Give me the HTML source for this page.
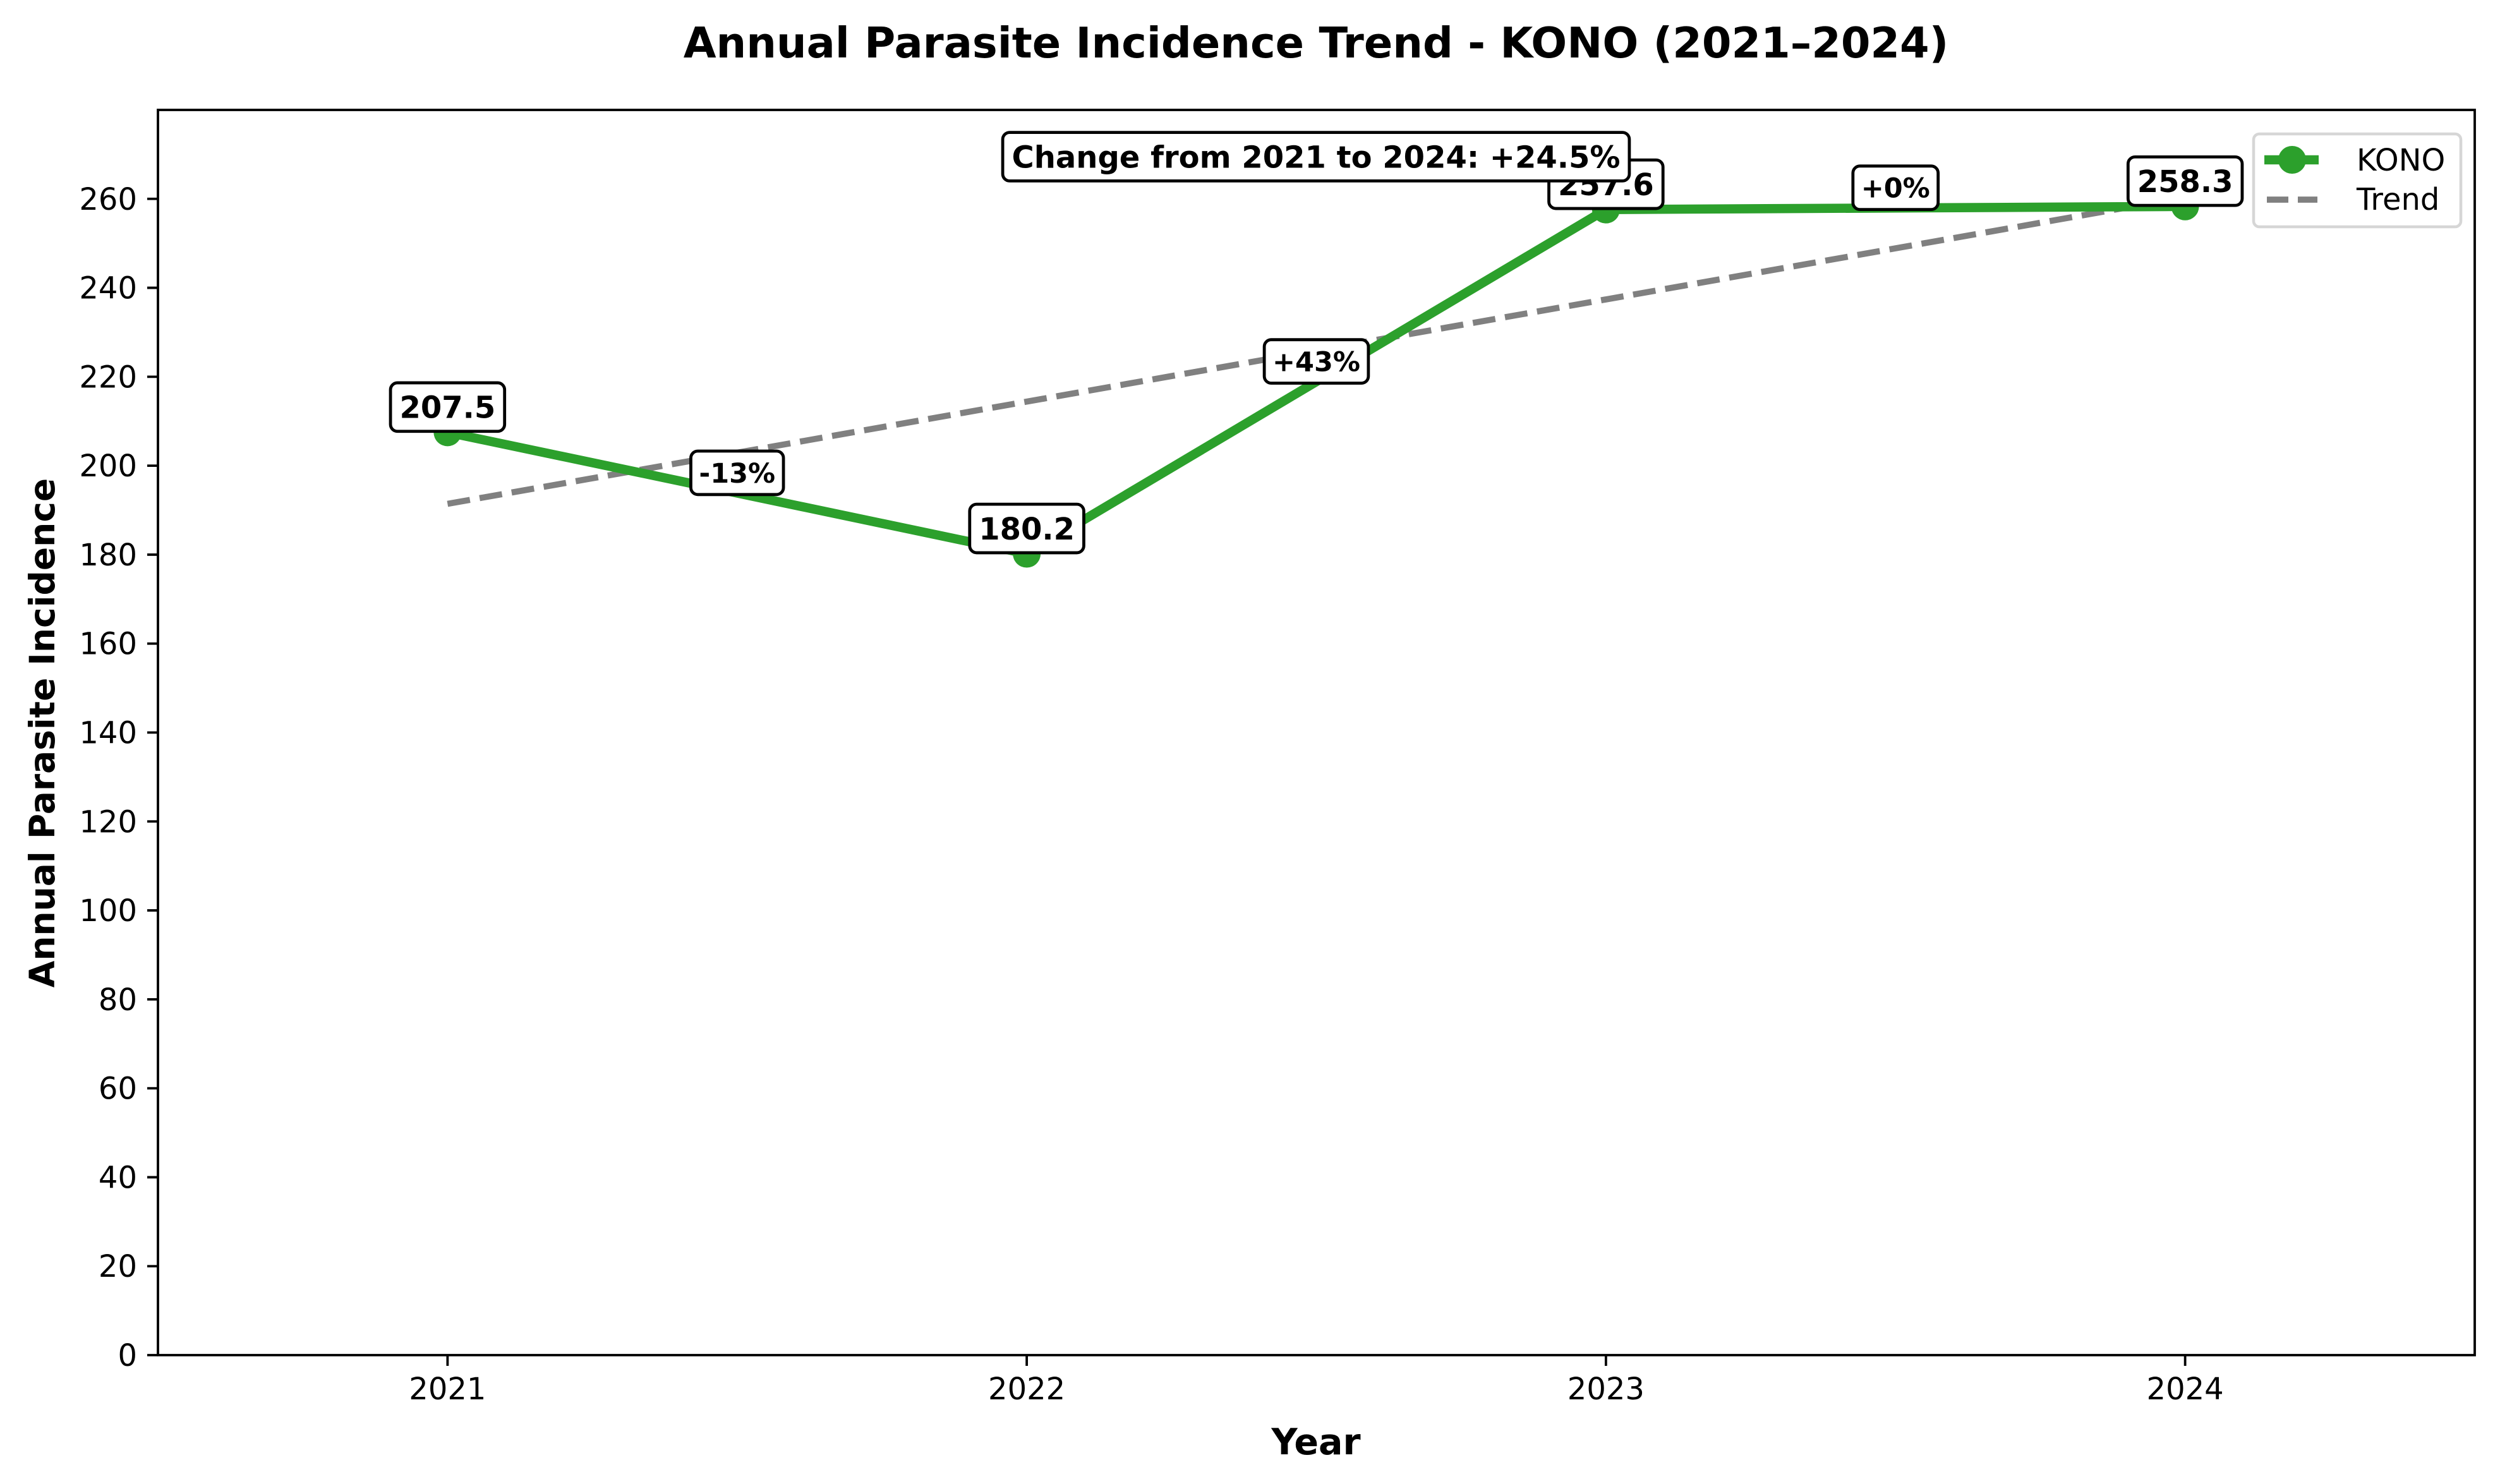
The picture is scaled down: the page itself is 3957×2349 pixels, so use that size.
<!DOCTYPE html>
<html><head><meta charset="utf-8"><style>
html,body{margin:0;padding:0;background:#fff}
svg{display:block;font-family:"DejaVu Sans","Liberation Sans",sans-serif}
</style></head><body>
<svg id="chart" width="3957" height="2349" viewBox="0 0 3957 2349">
<rect x="0" y="0" width="3957" height="2349" fill="#fff"/>
<text x="2083" y="91" text-anchor="middle" font-size="67" font-weight="bold">Annual Parasite Incidence Trend - KONO (2021–2024)</text>
<g id="plot"></g>
<text x="2083" y="2302" text-anchor="middle" font-size="57" font-weight="bold">Year</text>
<text transform="translate(86,1160) rotate(-90)" text-anchor="middle" font-size="55" font-weight="bold">Annual Parasite Incidence</text>
</svg>
<script>
const years = [2021, 2022, 2023, 2024];
const values = [207.5, 180.2, 257.6, 258.3];
const yTicks = [0,20,40,60,80,100,120,140,160,180,200,220,240,260];
const changeText = "Change from 2021 to 2024: +24.5%";

const L=250,R=3917,T=174,B=2145;
const X0=2020.5,X1=2024.5,Y0=0,Y1=280;
const sx=v=>L+(v-X0)/(X1-X0)*(R-L);
const sy=v=>B-(v-Y0)/(Y1-Y0)*(B-T);
const NS="http://www.w3.org/2000/svg";
const g=document.getElementById('plot');
function mk(tag,attrs,parent){const e=document.createElementNS(NS,tag);for(const k in attrs)e.setAttribute(k,attrs[k]);(parent||g).appendChild(e);return e;}

yTicks.forEach(t=>{
  const tk=mk('line',{x1:L-17,x2:L,y1:sy(t),y2:sy(t),stroke:'#000','stroke-width':3.8});
  
  
  const tx=mk('text',{x:L-33,y:sy(t)+17,'text-anchor':'end','font-size':48});
  tx.textContent=t;
  
  
});
years.forEach(y=>{
  const tk=mk('line',{x1:sx(y),x2:sx(y),y1:B,y2:B+17,stroke:'#000','stroke-width':3.8});
  
  
  const tx=mk('text',{x:sx(y),y:B+70,'text-anchor':'middle','font-size':48});
  tx.textContent=y;
  
  
});

const n=years.length,mx=years.reduce((a,b)=>a+b)/n,my=values.reduce((a,b)=>a+b)/n;
let num=0,den=0;years.forEach((x,i)=>{num+=(x-mx)*(values[i]-my);den+=(x-mx)**2;});
const slope=num/den,icpt=my-slope*mx;
const tr=mk('line',{x1:sx(years[0]),y1:sy(slope*years[0]+icpt),x2:sx(years[n-1]),y2:sy(slope*years[n-1]+icpt),stroke:'#808080','stroke-width':9.7,'stroke-dasharray':'36 15.5'});



const pl=mk('polyline',{points:years.map((y,i)=>sx(y)+','+sy(values[i])).join(' '),fill:'none',stroke:'#2ca02c','stroke-width':14.6,'stroke-linejoin':'round'});


years.forEach((y,i)=>{
  const c=mk('circle',{cx:sx(y),cy:sy(values[i]),r:22,fill:'#2ca02c'});
  
  
});

function label(cx,cy,text,fs,name){
  const grp=mk('g',{});
  
  
  const r=mk('rect',{fill:'#fff',stroke:'#000','stroke-width':4.8,rx:11},grp);
  const t=mk('text',{x:cx,y:cy+fs*0.36,'text-anchor':'middle','font-size':fs,'font-weight':'bold'},grp);
  t.textContent=text;
  const bb=t.getBBox();const pad=fs*0.3;
  r.setAttribute('x',bb.x-pad);r.setAttribute('y',cy-fs*0.5-pad);
  r.setAttribute('width',bb.width+2*pad);r.setAttribute('height',fs+2*pad);
}
for(let i=1;i<n;i++){
  const pct=Math.round((values[i]-values[i-1])/values[i-1]*100);
  const txt=(pct>=0?'+':'')+pct+'%';
  const mxp=(years[i]+years[i-1])/2,myp=(values[i]+values[i-1])/2;
  label(sx(mxp),sy(myp)-32,txt,43,'pct-change-label');
}
years.forEach((y,i)=>label(sx(y),sy(values[i])-40,values[i].toFixed(1),48,'value-label'));
label(2083,248,changeText,48,'change-annotation');

const fr=mk('rect',{x:L,y:T,width:R-L,height:B-T,fill:'none',stroke:'#000','stroke-width':3.8});



const lg=mk('g',{});


mk('rect',{x:3567,y:212,width:328,height:147,rx:9,fill:'#fff','fill-opacity':0.8,stroke:'#d6d6d6','stroke-width':4.5},lg);
mk('line',{x1:3584,x2:3670,y1:253,y2:253,stroke:'#2ca02c','stroke-width':14.6},lg);
mk('circle',{cx:3628,cy:253,r:22,fill:'#2ca02c'},lg);
const lt1=mk('text',{x:3730,y:270,'font-size':48},lg);lt1.textContent='KONO';


mk('line',{x1:3588,x2:3668,y1:316,y2:316,stroke:'#808080','stroke-width':9.7,'stroke-dasharray':'34 15'},lg);
const lt2=mk('text',{x:3730,y:332,'font-size':48},lg);lt2.textContent='Trend';


</script>
</body></html>
